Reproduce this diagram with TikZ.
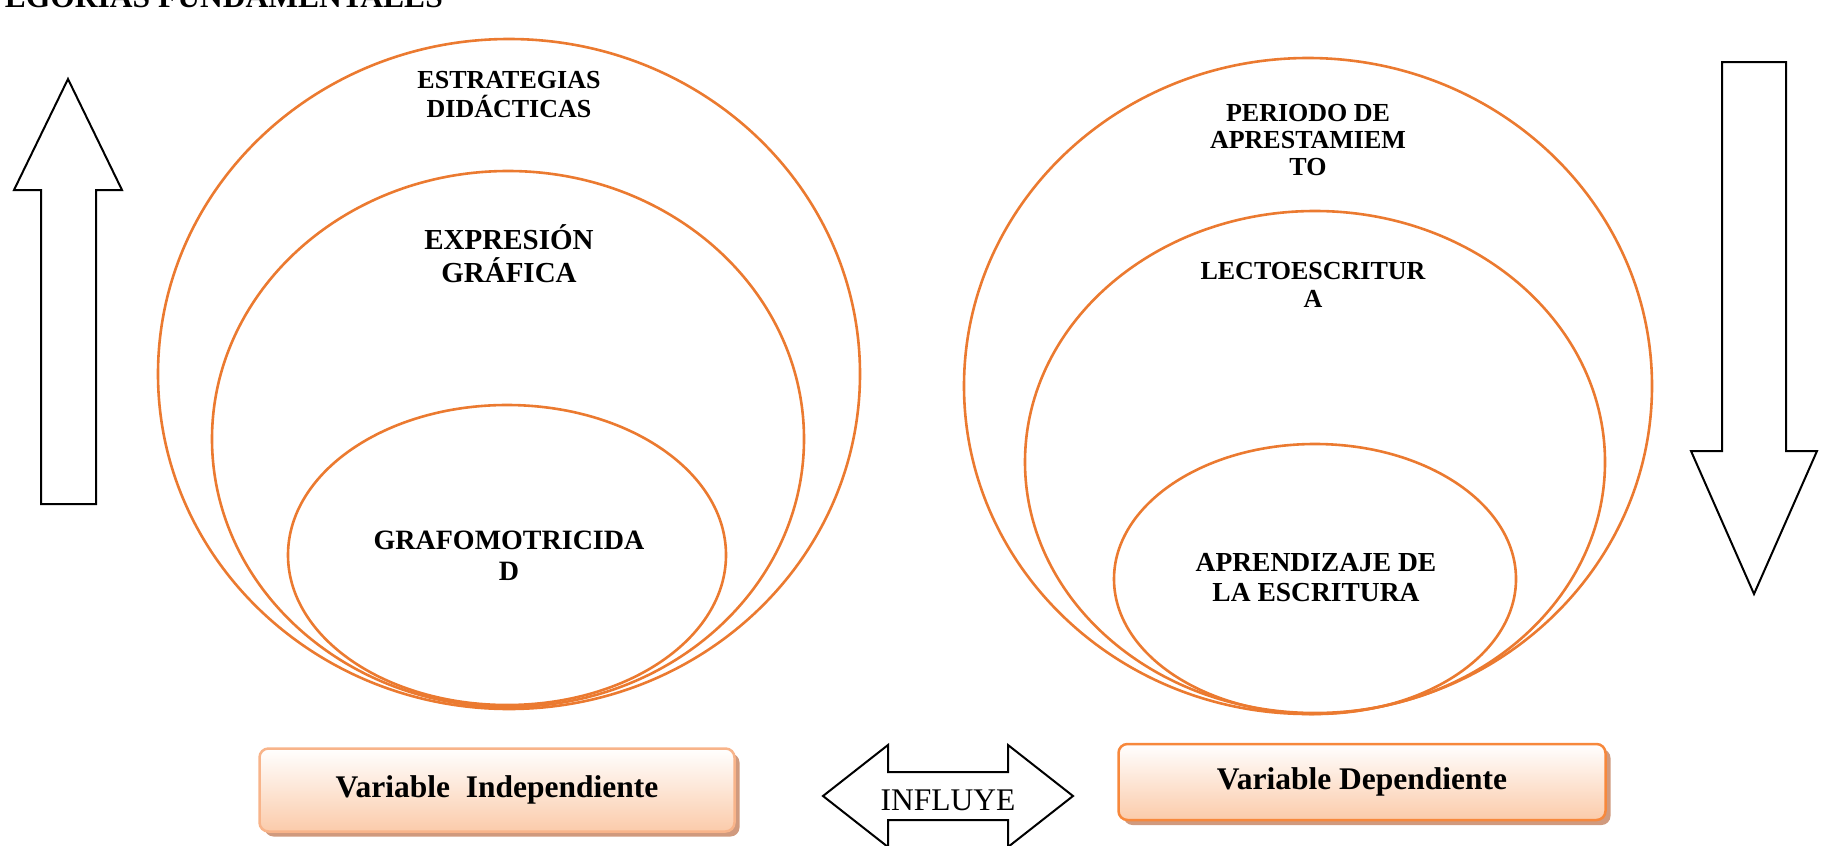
\documentclass[tikz,border=0pt]{standalone}
\usepackage{fontspec}
\setmainfont{Liberation Serif}
\usetikzlibrary{shapes.geometric,shadows}
\definecolor{ringc}{HTML}{EB7A30}
\definecolor{boxlight}{HTML}{F8B48A}
\definecolor{boxdark}{HTML}{F7883C}
\definecolor{peach}{HTML}{FBCBAA}
\definecolor{shadowc}{HTML}{D09A7E}
\tikzset{
  ring/.style={ellipse, draw=ringc, line width=2.6pt, inner sep=0pt},
  lab/.style={font=\bfseries, align=center, inner sep=0pt},
  blockarrow/.style={draw=black, line width=2pt, fill=white, line join=miter},
  varbox/.style={rounded corners=9pt, line width=2.5pt, top color=white, bottom color=peach,
    inner sep=0pt, font=\bfseries\fontsize{31.5}{36}\selectfont,
    drop shadow={shadow xshift=5pt, shadow yshift=-5pt, fill=shadowc, opacity=1}},
}
\begin{document}
\begin{tikzpicture}[x=1pt,y=-1pt]
\useasboundingbox (0,0) rectangle (1829,846);

% title (cut at top/left)
\node[anchor=base east, font=\bfseries\fontsize{31.5}{36}\selectfont, inner sep=0pt] (title) at (443,7) {CATEGORIAS FUNDAMENTALES};

% left ellipses
\node[ring, minimum width=702pt, minimum height=670pt] (lo) at (509,374) {};
\node[ring, minimum width=592pt, minimum height=536pt] (lm) at (508,439) {};
\node[ring, minimum width=438pt, minimum height=300pt] (li) at (507,555) {};

\node[lab, font=\bfseries\fontsize{26}{29}\selectfont] (t1) at (509,95) {ESTRATEGIAS\\DIDÁCTICAS};
\node[lab, font=\bfseries\fontsize{29}{33}\selectfont] (t2) at (509,254) {EXPRESIÓN\\GRÁFICA};
\node[lab, font=\bfseries\fontsize{28}{31}\selectfont] (t3) at (509,556) {GRAFOMOTRICIDA\\D};

% right ellipses
\node[ring, minimum width=688pt, minimum height=656pt] (ro) at (1308,386) {};
\node[ring, minimum width=580pt, minimum height=502pt] (rm) at (1315,462) {};
\node[ring, minimum width=402pt, minimum height=270pt] (ri) at (1315,579) {};

\node[lab, font=\bfseries\fontsize{26}{27}\selectfont] (t4) at (1308,140) {PERIODO DE\\APRESTAMIEM\\TO};
\node[lab, font=\bfseries\fontsize{26}{28}\selectfont] (t5) at (1313,285) {LECTOESCRITUR\\A};
\node[lab, font=\bfseries\fontsize{27.5}{30}\selectfont] (t6) at (1316,578) {APRENDIZAJE DE\\LA ESCRITURA};

% up arrow (left)
\draw[blockarrow] (68,79) -- (122,190) -- (96,190) -- (96,504) -- (41,504) -- (41,190) -- (14,190) -- cycle;
% down arrow (right)
\draw[blockarrow] (1722,62) -- (1786,62) -- (1786,451) -- (1817,451) -- (1754,594) -- (1691,451) -- (1722,451) -- cycle;

% variable boxes
\node[varbox, draw=boxlight, minimum width=475pt, minimum height=83pt] (vi) at (497,790) {Variable\ \ Independiente};
\node[varbox, draw=boxdark, minimum width=487pt, minimum height=76pt] (vd) at (1362,782) {Variable Dependiente};

% INFLUYE double arrow
\draw[blockarrow] (823,796) -- (888,745) -- (888,772) -- (1008,772) -- (1008,745) -- (1073,796)
  -- (1008,847) -- (1008,820) -- (888,820) -- (888,847) -- cycle;
\node[font=\fontsize{31.5}{36}\selectfont, inner sep=0pt] (inf) at (948,800) {INFLUYE};
\end{tikzpicture}
\end{document}
